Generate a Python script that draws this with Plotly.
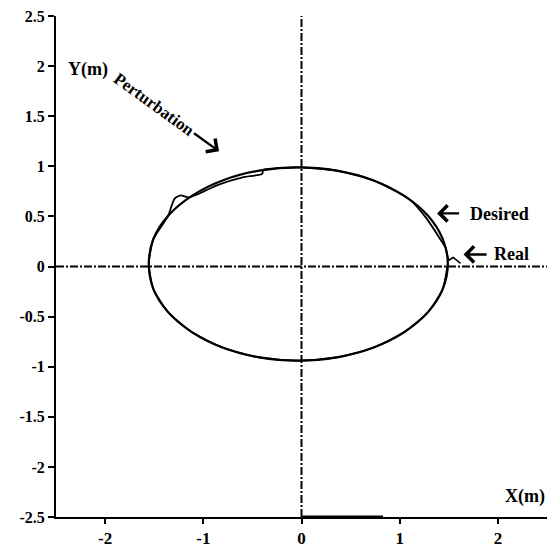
import plotly.graph_objects as go

# Desired trajectory (ellipse) points
desired_x = [1.49, 1.438, 1.286, 1.043, 0.728, 0.360, -0.035, -0.430, -0.798, -1.113,
             -1.356, -1.508, -1.555, -1.508, -1.356, -1.113, -0.798, -0.430, -0.035,
             0.360, 0.728, 1.043, 1.286, 1.438, 1.49]
desired_y = [0.025, 0.275, 0.508, 0.707, 0.861, 0.957, 0.99, 0.957, 0.861, 0.707,
             0.508, 0.275, 0.025, -0.225, -0.458, -0.657, -0.811, -0.907, -0.94,
             -0.907, -0.811, -0.657, -0.458, -0.225, 0.025]

# Real trajectory: starting kink (straight segments)
real_start_x = [1.62, 1.545, 1.495]
real_start_y = [0.03, 0.09, 0.06]

# Real trajectory points
real_x = [1.495, 1.47, 1.415, 1.265, 1.10, 0.728, 0.360, -0.035, -0.30,
          -0.39, -0.40, -0.60, -0.85, -1.05, -1.15, -1.23, -1.29, -1.325, -1.356,
          -1.508, -1.555, -1.508, -1.356, -1.113, -0.798, -0.430, -0.035, 0.360,
          0.728, 1.043, 1.286, 1.438, 1.49]
real_y = [0.06, 0.18, 0.27, 0.49, 0.67, 0.861, 0.957, 0.99, 0.975,
          0.963, 0.925, 0.89, 0.815, 0.725, 0.69, 0.71, 0.68, 0.60, 0.508,
          0.275, 0.025, -0.225, -0.458, -0.657, -0.811, -0.907, -0.94, -0.907,
          -0.811, -0.657, -0.458, -0.225, 0.025]

x_ticks = [-2, -1, 0, 1, 2]
y_ticks = [-2.5, -2, -1.5, -1, -0.5, 0, 0.5, 1, 1.5, 2, 2.5]
y_tick_text = ["-2.5", "-2", "-1.5", "-1", "-0.5", "0", "0.5", "1", "1.5", "2", "2.5"]

FONT = "Liberation Serif"

fig = go.Figure()
fig.add_trace(go.Scatter(x=desired_x, y=desired_y, mode="lines",
                         line=dict(color="black", width=2.2, shape="spline", smoothing=1.0),
                         name="Desired", hoverinfo="skip"))
fig.add_trace(go.Scatter(x=real_start_x, y=real_start_y, mode="lines",
                         line=dict(color="black", width=1.6),
                         name="Real start", hoverinfo="skip"))
fig.add_trace(go.Scatter(x=real_x, y=real_y, mode="lines",
                         line=dict(color="black", width=1.8, shape="spline", smoothing=0.6),
                         name="Real", hoverinfo="skip"))

# dash-dot reference axes
fig.add_shape(type="line", x0=0, x1=0, y0=-2.5, y1=2.5, xref="x", yref="y",
              line=dict(color="black", width=2, dash="8px,2px,2px,2px"))
fig.add_shape(type="line", x0=-2.5, x1=2.5, y0=0, y1=0, xref="x", yref="y",
              line=dict(color="black", width=2, dash="8px,2px,2px,2px"))
# thickened bottom segment
fig.add_shape(type="line", x0=0, x1=0.83, y0=-2.493, y1=-2.493, xref="x", yref="y",
              line=dict(color="black", width=1.5))

ann_font = dict(family=FONT, size=18, color="black", weight="bold")
fig.add_annotation(x=-2.17, y=1.97, text="Y(m)", showarrow=False, font=ann_font)
fig.add_annotation(x=2.28, y=-2.30, text="X(m)", showarrow=False, font=ann_font)
fig.add_annotation(x=-1.50, y=1.62, text="Perturbation", showarrow=False, textangle=36,
                   font=dict(family=FONT, size=17, color="black", weight="bold"))
fig.add_annotation(x=-0.84, y=1.15, ax=-1.11, ay=1.34, axref="x", ayref="y", text="",
                   showarrow=True, arrowhead=4, arrowsize=1.3, arrowwidth=2.4, arrowcolor="black")
fig.add_annotation(x=1.70, y=0.52, text="Desired", showarrow=False, xanchor="left", font=ann_font)
fig.add_annotation(x=1.38, y=0.53, ax=1.62, ay=0.53, axref="x", ayref="y", text="",
                   showarrow=True, arrowhead=4, arrowsize=1.3, arrowwidth=2.4, arrowcolor="black")
fig.add_annotation(x=1.94, y=0.12, text="Real", showarrow=False, xanchor="left", font=ann_font)
fig.add_annotation(x=1.65, y=0.12, ax=1.90, ay=0.12, axref="x", ayref="y", text="",
                   showarrow=True, arrowhead=4, arrowsize=1.3, arrowwidth=2.4, arrowcolor="black")

fig.update_layout(
    width=547, height=549,
    margin=dict(l=56, r=0, t=16, b=32),
    paper_bgcolor="white", plot_bgcolor="white",
    showlegend=False,
    xaxis=dict(range=[-2.5, 2.5], tickvals=x_ticks, ticktext=[str(v) for v in x_ticks],
               automargin=False,
               showgrid=False, zeroline=False, showline=True, linecolor="black", linewidth=2,
               ticks="outside", ticklen=5, tickwidth=2, tickcolor="black",
               tickfont=dict(family=FONT, size=17, color="black", weight="bold")),
    yaxis=dict(range=[-2.5, 2.5], tickvals=y_ticks, ticktext=y_tick_text,
               automargin=False,
               showgrid=False, zeroline=False, showline=True, linecolor="black", linewidth=2,
               ticks="outside", ticklen=6, tickwidth=2, tickcolor="black",
               tickfont=dict(family=FONT, size=16, color="black", weight="bold")),
)

fig.write_html("out.html", config={"displayModeBar": False},
               post_script="document.body.style.margin='0px';")
